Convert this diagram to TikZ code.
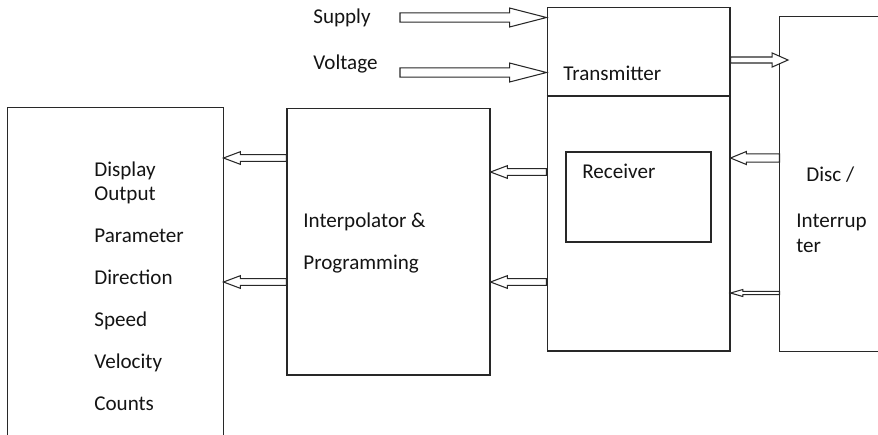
\documentclass[tikz,border=0pt]{standalone}
\usepackage{fontspec}
\setmainfont{Carlito}
\usepackage{tikz}
\usetikzlibrary{calc, positioning}
\definecolor{linecol}{RGB}{40,40,40}
\definecolor{textcol}{RGB}{20,20,20}

\begin{document}
\begin{tikzpicture}[x=0.02cm, y=-0.02cm,
  block/.style={rectangle, draw=linecol, line width=0.6pt, inner sep=0pt},
  lbl/.style={anchor=base west, inner sep=0pt, text=textcol,
              font=\fontsize{12}{14}\selectfont},
  % hollow arrow: half shaft, half head, head length
  hollow/.style n args={3}{draw=linecol, line width=0.6pt, fill=white,
    to path={let \p1=(\tikztostart), \p2=(\tikztotarget),
                 \n1={sign(\x2-\x1)} in
      (\x1,{\y1+#1}) -- ({\x2-\n1*#3},{\y1+#1}) -- ({\x2-\n1*#3},{\y1+#2})
      -- (\x2,\y1) -- ({\x2-\n1*#3},{\y1-#2}) -- ({\x2-\n1*#3},{\y1-#1})
      -- (\x1,{\y1-#1}) -- cycle}}
]
\useasboundingbox (0,0) rectangle (878,434);

% Blocks
\node[block, draw=none, minimum width=4.30cm, minimum height=6.72cm]
      (display) at (115.5,276) {};
\draw[linecol, line width=0.6pt] (display.south west) -- (display.north west)
      -- (display.north east) -- (display.south east);

\node[block, minimum width=4.06cm, minimum height=5.34cm]
      (interp) at (388.5,241.5) {};

\node[block, minimum width=3.66cm, minimum height=6.88cm]
      (trans) at (638.5,179) {};
\draw[linecol, line width=0.6pt] (trans.west |- 0,96) -- (trans.east |- 0,96);

\node[block, minimum width=2.90cm, minimum height=1.80cm]
      (recv) at (638.5,197) {};

\node[block, draw=none, minimum width=2.20cm, minimum height=6.68cm]
      (disc) at (835,184) {};
\draw[linecol, line width=0.6pt] (disc.north east) -- (disc.north west)
      -- (disc.south west) -- (disc.south east);

% Labels
\node[lbl] (supplytxt) at (313,23) {Supply};
\node[lbl] (volttxt)   at (313,69) {Voltage};
\node[lbl] (txtxt)     at (563,80) {Transmitter};
\node[lbl] (rxtxt)     at (582,178) {Receiver};
\node[lbl] (disctxt)   at (806,181) {Disc /};
\node[lbl] (intrtxt)   at (796,227) {Interrup};
\node[lbl] (tertxt)    at (796,252) {ter};
\node[lbl] (interptxt) at (303,227) {Interpolator \&};
\node[lbl] (progtxt)   at (303,269) {Programming};

\foreach \name/\txt/\yy in {dsp/Display/176, out/Output/200, par/Parameter/242,
    dir/Direction/284, spd/Speed/326, vel/Velocity/368, cnt/Counts/410}
  \node[lbl] (\name txt) at (94,\yy) {\txt};

% Arrow ends
\coordinate (supin)  at (400,17.5);
\coordinate (voltin) at (400,72.5);
\coordinate (txout)  at (788,60);

% Supply and voltage into transmitter
\draw[hollow={2.6pt}{5.4pt}{21pt}] (supin) to (trans.west |- supin);
\draw[hollow={2.6pt}{5.4pt}{21pt}] (voltin) to (trans.west |- voltin);

% Transmitter to disc
\draw[hollow={1.7pt}{4pt}{9pt}] (trans.east |- txout) to (txout);

% Disc back to receiver
\draw[hollow={2.3pt}{3.7pt}{9pt}] (disc.west |- 0,158) to (trans.east |- 0,158);
\draw[hollow={0.9pt}{2pt}{7pt}] (disc.west |- 0,293) to (trans.east |- 0,293);

% Receiver to interpolator
\foreach \yy in {172, 282}
  \draw[hollow={1.9pt}{3.6pt}{9.6pt}] (trans.west |- 0,\yy) to (interp.east |- 0,\yy);

% Interpolator to display
\foreach \yy in {158, 282}
  \draw[hollow={1.9pt}{3.6pt}{9.6pt}] (interp.west |- 0,\yy) to (display.east |- 0,\yy);

\end{tikzpicture}
\end{document}
